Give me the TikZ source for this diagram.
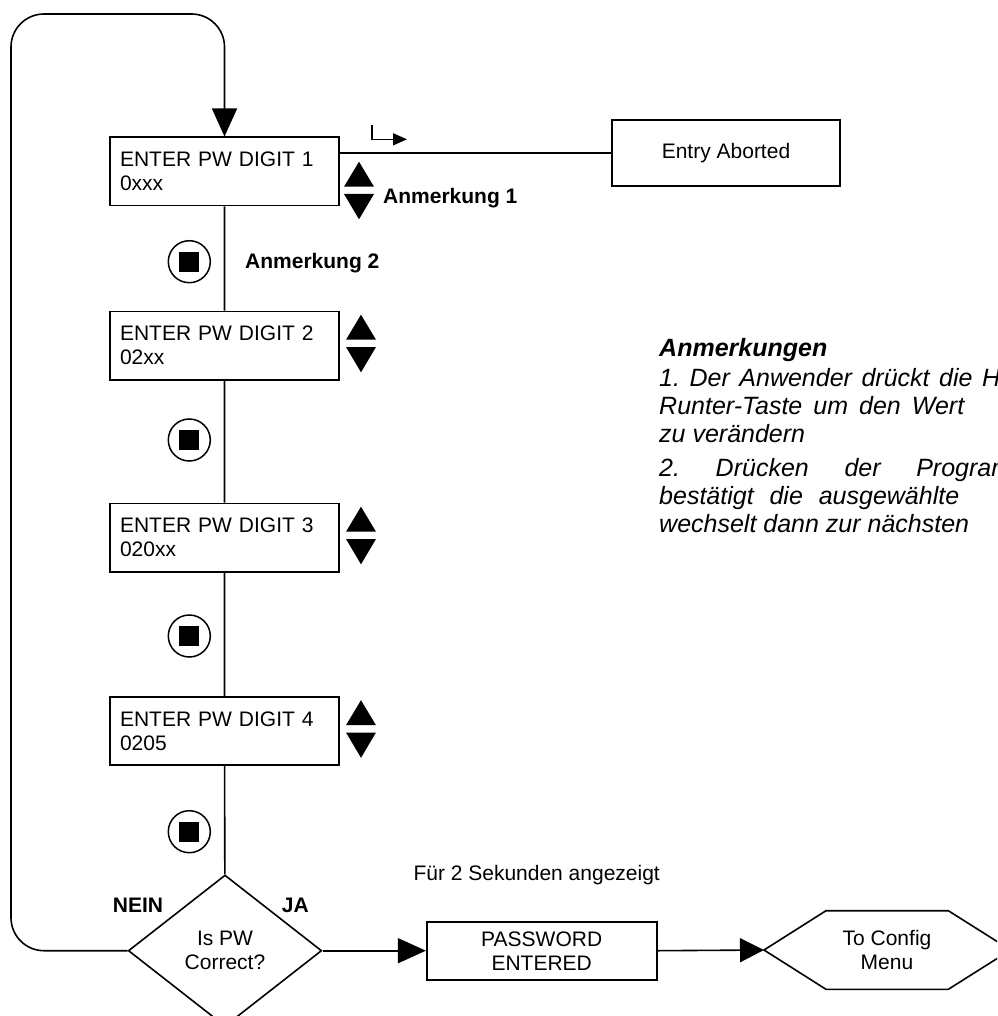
\documentclass[tikz,border=0pt]{standalone}
\usepackage{fontspec}
\setmainfont{Liberation Sans}
\usetikzlibrary{arrows.meta,shapes.geometric}
\begin{document}
\begin{tikzpicture}[x=1pt,y=-1pt,
  every node/.style={font=\fontsize{21}{24}\selectfont},
  conn/.style={line width=1.6pt},
  arr/.style={line width=1.6pt,-{Triangle[length=28pt,width=25pt]}},
  digitbox/.style={draw,line width=1.6pt,minimum width=229pt,minimum height=68.4pt,
    inner xsep=10pt,text width=209pt,align=left},
  keybtn/.style={circle,draw,line width=1.5pt,minimum size=42pt,inner sep=0pt},
  plainbox/.style={draw,line width=1.6pt,align=center,inner sep=0pt},
  lbl/.style={anchor=base west,inner sep=0pt},
  boldlbl/.style={lbl,font=\fontsize{21}{24}\selectfont\bfseries},
  notes/.style={anchor=base west,inner sep=0pt,font=\fontsize{25}{29}\selectfont\itshape},
  updown/.pic={
    \fill (-15,25) -- (15,25) -- (0,0) -- cycle;
    \fill (-15,32.3) -- (15,32.3) -- (0,57.6) -- cycle;
  }]
\useasboundingbox (0,0) rectangle (997,1016);
\clip (0,0) rectangle (997,1016);

% digit entry boxes
\node[digitbox] (b1) at (224.5,171.5) {ENTER PW DIGIT 1\\0xxx};
\node[digitbox] (b2) at (224.5,345.5) {ENTER PW DIGIT 2\\02xx};
\node[digitbox] (b3) at (224.5,537.5) {ENTER PW DIGIT 3\\020xx};
\node[digitbox] (b4) at (224.5,731.0) {ENTER PW DIGIT 4\\0205};

% up / down keys
\pic at (359,161.7) {updown};
\pic at (361,314.7) {updown};
\pic at (361,506.7) {updown};
\pic at (361,700.2) {updown};

% program key presses
\node[keybtn] (k1) at (189.3,261.7) {\rule{20pt}{20pt}};
\node[keybtn] (k2) at (189.3,440.0) {\rule{20pt}{20pt}};
\node[keybtn] (k3) at (189.3,636.0) {\rule{20pt}{20pt}};
\node[keybtn] (k4) at (189.3,831.7) {\rule{20pt}{20pt}};

\node[boldlbl] (a1) at (383,203.3) {Anmerkung 1};
\node[boldlbl] (a2) at (245,268) {Anmerkung 2};

% decision
\node[diamond,draw,line width=1.6pt,minimum width=193.4pt,minimum height=151.4pt,
  inner sep=0pt,aspect=1.277,align=center] (dia) at (225,950.7) {Is PW\\Correct?};
\node[boldlbl] (nein) at (112.7,912.7) {NEIN};
\node[boldlbl] (ja) at (281.7,912.7) {JA};

% abort path
\node[plainbox,minimum width=228.3pt,minimum height=66pt] (ab) at (726,153.3) {Entry Aborted};
\draw[conn] (ab.west) -- (ab.west -| b1.east);
\coordinate (hk) at (372,125);
\draw[line width=1.5pt,-{Triangle[length=14pt,width=12pt]}] (hk) |- (407,139.3);

% main chain
\draw[conn] (b1) -- (b2) -- (b3) -- (b4) -- (dia);

% return loop
\draw[arr,rounded corners=33pt] (dia.west) -- (11,950.7) -- (11,14) -- (224.5,14) -- (b1.north);

% success path
\node[plainbox,minimum width=230pt,minimum height=58pt] (pw) at (541.7,950.7) {PASSWORD\\ENTERED};
\draw[arr] (dia.east) -- (pw.west);
\node[lbl] (t2s) at (413.3,880) {Für 2 Sekunden angezeigt};

\coordinate (menuL) at (764,950);
\draw[conn] (menuL) -- (826,910.7) -- (948.3,910.7) -- (1010.6,950) -- (948.3,989.3) -- (826,989.3) -- cycle;
\node[align=center,inner sep=0pt] (menu) at (887,950) {To Config\\Menu};
\draw[line width=1.6pt,-{Triangle[length=24pt,width=24pt]}] (pw.east) -- (menuL);

% notes
\node[notes,font=\fontsize{25}{29}\selectfont\bfseries\itshape] (n0) at (659,356) {Anmerkungen};
\node[notes] (n1) at (659,386) {\hbox to 341pt{1.\hfill Der\hfill Anwender\hfill drückt\hfill die\hfill H}};
\node[notes] (n2) at (659,414) {\hbox to 305pt{Runter-Taste\hfill um\hfill den\hfill Wert}};
\node[notes] (n3) at (659,442) {zu verändern};
\node[notes] (n4) at (659,476) {\hbox to 353pt{2.\hfill Drücken\hfill der\hfill Program}};
\node[notes] (n5) at (659,504) {\hbox to 300pt{bestätigt\hfill die\hfill ausgewählte}};
\node[notes] (n6) at (659,532) {wechselt dann zur nächsten};
\end{tikzpicture}
\end{document}
